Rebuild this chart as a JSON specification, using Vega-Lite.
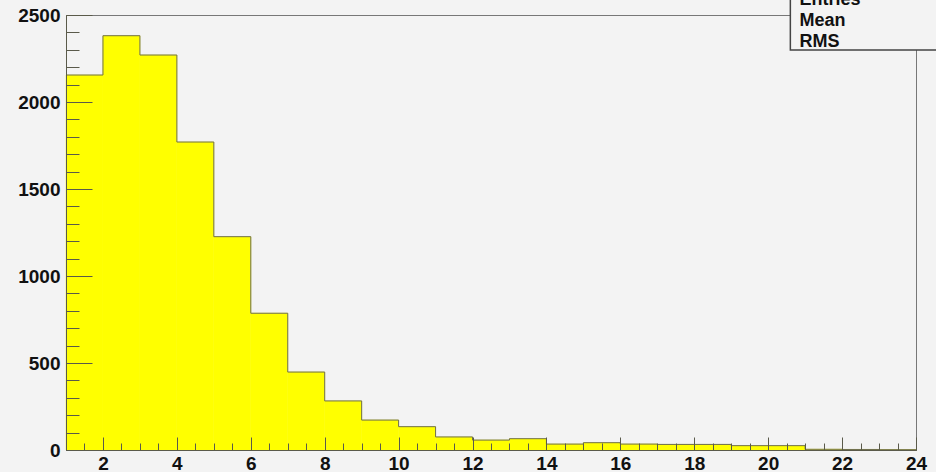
{
  "$schema": "https://vega.github.io/schema/vega-lite/v6.json",
  "width": 850,
  "height": 435,
  "autosize": "none",
  "padding": {"left": 66, "top": 15, "right": 20, "bottom": 22},
  "background": "#f3f3f3",
  "config": {
    "view": {"stroke": "#777777", "strokeWidth": 1, "fill": "#f3f3f3"},
    "axis": {
      "labelFont": "Liberation Sans",
      "labelFontWeight": "bold",
      "labelFontSize": 19,
      "labelColor": "#111111",
      "tickColor": "#5a5a4a",
      "domainColor": "#5a5a4a",
      "grid": false,
      "title": null,
      "format": "d"
    }
  },
  "datasets": {
    "hist": [
      {"lo": 1, "hi": 2, "count": 2155},
      {"lo": 2, "hi": 3, "count": 2381},
      {"lo": 3, "hi": 4, "count": 2270},
      {"lo": 4, "hi": 5, "count": 1770},
      {"lo": 5, "hi": 6, "count": 1226},
      {"lo": 6, "hi": 7, "count": 786},
      {"lo": 7, "hi": 8, "count": 448},
      {"lo": 8, "hi": 9, "count": 282},
      {"lo": 9, "hi": 10, "count": 172},
      {"lo": 10, "hi": 11, "count": 134},
      {"lo": 11, "hi": 12, "count": 75},
      {"lo": 12, "hi": 13, "count": 57},
      {"lo": 13, "hi": 14, "count": 65},
      {"lo": 14, "hi": 15, "count": 34},
      {"lo": 15, "hi": 16, "count": 42},
      {"lo": 16, "hi": 17, "count": 34},
      {"lo": 17, "hi": 18, "count": 32},
      {"lo": 18, "hi": 19, "count": 32},
      {"lo": 19, "hi": 20, "count": 25},
      {"lo": 20, "hi": 21, "count": 25},
      {"lo": 21, "hi": 22, "count": 4},
      {"lo": 22, "hi": 23, "count": 3},
      {"lo": 23, "hi": 24, "count": 2}
    ],
    "box": [{"bx1": 20.6, "bx2": 26, "by1": 2299, "by2": 2800}],
    "stats": [
      {"label": "Entries", "tx": 20.85, "ty": 2555},
      {"label": "Mean", "tx": 20.85, "ty": 2437},
      {"label": "RMS", "tx": 20.85, "ty": 2318}
    ]
  },
  "layer": [
    {
      "data": {"name": "hist"},
      "mark": {"type": "bar", "color": "#ffff00", "stroke": "#ffff00", "strokeWidth": 0.5},
      "encoding": {
        "x": {"field": "lo", "type": "quantitative", "scale": {"domain": [1, 24], "nice": false, "zero": false},
              "axis": {"orient": "bottom", "zindex": 2, "values": [2,4,6,8,10,12,14,16,18,20,22,24], "tickSize": -13, "labelPadding": 17, "labelFlush": false}},
        "x2": {"field": "hi"},
        "y": {"field": "count", "type": "quantitative", "scale": {"domain": [0, 2500], "nice": false},
              "axis": {"orient": "left", "zindex": 2, "values": [0,500,1000,1500,2000,2500], "tickSize": -26, "labelPadding": 32, "labelFlush": false}},
        "y2": {"datum": 0}
      }
    },
    {
      "data": {"name": "hist"},
      "mark": {"type": "rule", "color": "#6e6e50", "strokeWidth": 1},
      "encoding": {
        "x": {"field": "lo", "type": "quantitative", "axis": null},
        "x2": {"field": "hi"},
        "y": {"field": "count", "type": "quantitative", "axis": null}
      }
    },
    {
      "data": {"name": "hist"},
      "transform": [{"window": [{"op": "lag", "field": "count", "as": "prev"}], "sort": [{"field": "lo"}]}],
      "mark": {"type": "rule", "color": "#6e6e50", "strokeWidth": 1},
      "encoding": {
        "x": {"field": "lo", "type": "quantitative", "axis": null},
        "y": {"field": "count", "type": "quantitative", "axis": null},
        "y2": {"field": "prev"}
      }
    },
    {
      "data": {"name": "hist"},
      "mark": {"type": "rule", "opacity": 0},
      "encoding": {
        "x": {"field": "lo", "type": "quantitative",
              "axis": {"orient": "bottom", "zindex": 2, "values": [1,1.5,2,2.5,3,3.5,4,4.5,5,5.5,6,6.5,7,7.5,8,8.5,9,9.5,10,10.5,11,11.5,12,12.5,13,13.5,14,14.5,15,15.5,16,16.5,17,17.5,18,18.5,19,19.5,20,20.5,21,21.5,22,22.5,23,23.5,24], "tickSize": -7, "labels": false, "domain": false}},
        "y": {"field": "count", "type": "quantitative",
              "axis": {"orient": "left", "zindex": 2, "values": [0,100,200,300,400,500,600,700,800,900,1000,1100,1200,1300,1400,1500,1600,1700,1800,1900,2000,2100,2200,2300,2400,2500], "tickSize": -13, "labels": false, "domain": false}}
      }
    },
    {
      "data": {"name": "box"},
      "mark": {"type": "rect", "fill": "#f3f3f3", "stroke": "#444444", "strokeWidth": 1.5},
      "encoding": {
        "x": {"field": "bx1", "type": "quantitative", "axis": null},
        "x2": {"field": "bx2"},
        "y": {"field": "by1", "type": "quantitative", "axis": null},
        "y2": {"field": "by2"}
      }
    },
    {
      "data": {"name": "stats"},
      "mark": {"type": "text", "align": "left", "baseline": "alphabetic", "font": "Liberation Sans", "fontWeight": "bold", "fontSize": 18, "color": "#111111"},
      "encoding": {
        "x": {"field": "tx", "type": "quantitative", "axis": null},
        "y": {"field": "ty", "type": "quantitative", "axis": null},
        "text": {"field": "label"}
      }
    }
  ],
  "resolve": {"axis": {"x": "independent", "y": "independent"}}
}
